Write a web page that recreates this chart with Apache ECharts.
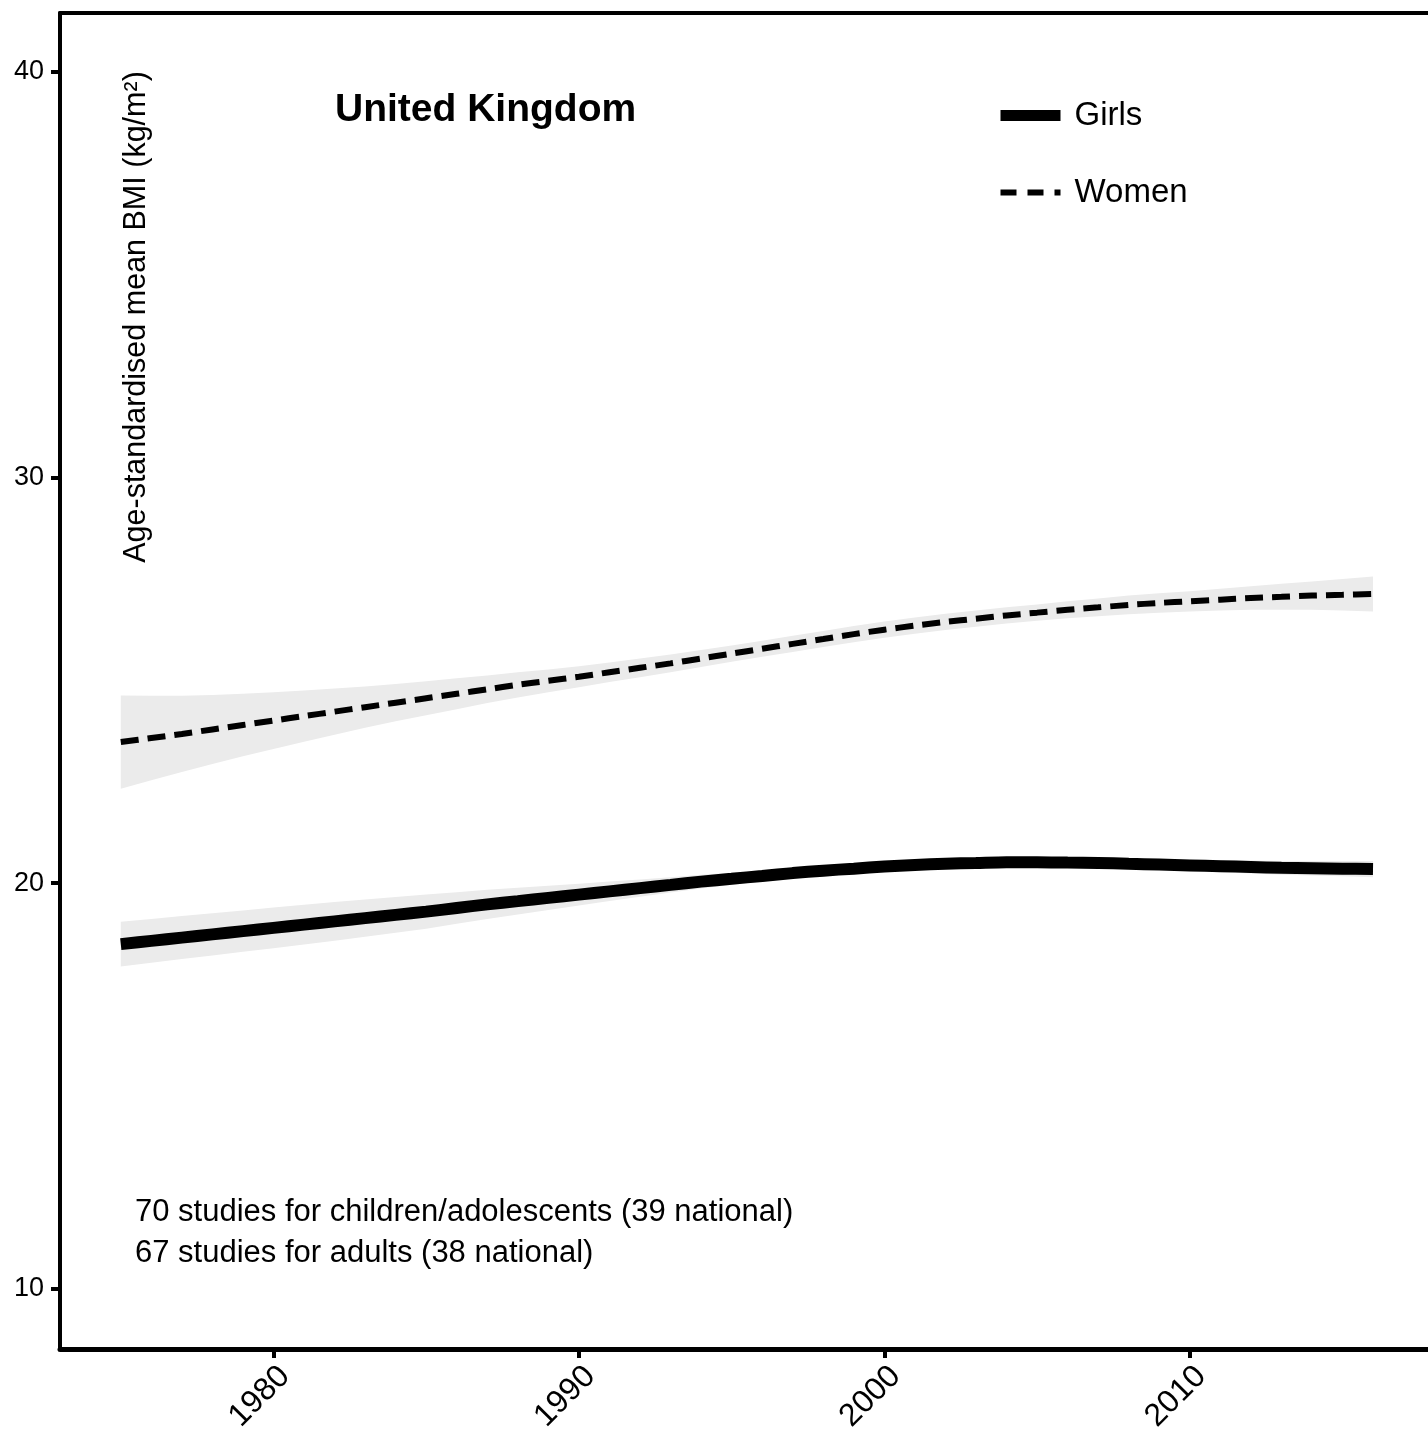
<!DOCTYPE html>
<html>
<head>
<meta charset="utf-8">
<script src="https://cdn.jsdelivr.net/npm/echarts@6/dist/echarts.min.js"></script>
<style>
html,body{margin:0;padding:0;background:#fff;}
#main{width:1428px;height:1448px;}
</style>
</head>
<body>
<div id="main"></div>
<script>
// ---- data ----
var years = [1975,1976,1977,1978,1979,1980,1981,1982,1983,1984,1985,1986,1987,1988,1989,1990,1991,1992,1993,1994,1995,1996,1997,1998,1999,2000,2001,2002,2003,2004,2005,2006,2007,2008,2009,2010,2011,2012,2013,2014,2015,2016];

var girlsMean  = [18.50,18.58,18.66,18.74,18.82,18.90,18.98,19.06,19.14,19.22,19.30,19.39,19.48,19.56,19.64,19.72,19.80,19.88,19.96,20.04,20.11,20.18,20.25,20.31,20.36,20.41,20.45,20.48,20.50,20.52,20.52,20.51,20.50,20.48,20.46,20.44,20.42,20.40,20.38,20.37,20.36,20.35];
var girlsUpper = [19.05,19.12,19.19,19.26,19.33,19.40,19.47,19.54,19.60,19.66,19.72,19.78,19.84,19.89,19.94,19.99,20.04,20.09,20.15,20.21,20.26,20.32,20.38,20.43,20.48,20.53,20.57,20.60,20.62,20.64,20.64,20.64,20.63,20.61,20.59,20.58,20.57,20.56,20.55,20.55,20.55,20.55];
var girlsLower = [17.95,18.04,18.13,18.22,18.31,18.40,18.49,18.58,18.68,18.78,18.88,19.00,19.12,19.23,19.34,19.45,19.56,19.67,19.77,19.87,19.96,20.04,20.12,20.19,20.24,20.29,20.33,20.36,20.38,20.40,20.40,20.38,20.37,20.35,20.33,20.30,20.27,20.24,20.21,20.19,20.17,20.15];

var womenMean  = [23.48,23.58,23.68,23.79,23.90,24.01,24.12,24.23,24.34,24.45,24.56,24.67,24.78,24.89,24.99,25.09,25.20,25.31,25.42,25.54,25.66,25.78,25.90,26.02,26.14,26.25,26.35,26.44,26.52,26.60,26.67,26.74,26.80,26.86,26.91,26.95,26.99,27.03,27.06,27.09,27.11,27.13];
var womenUpper = [24.63,24.62,24.62,24.64,24.67,24.71,24.75,24.80,24.85,24.91,24.98,25.05,25.12,25.20,25.27,25.35,25.44,25.54,25.64,25.75,25.86,25.98,26.10,26.22,26.34,26.45,26.55,26.64,26.72,26.80,26.87,26.95,27.02,27.09,27.15,27.20,27.26,27.32,27.38,27.44,27.50,27.56];
var womenLower = [22.33,22.54,22.74,22.94,23.13,23.31,23.49,23.66,23.83,23.99,24.14,24.29,24.44,24.58,24.71,24.83,24.96,25.08,25.20,25.33,25.46,25.58,25.70,25.82,25.94,26.05,26.15,26.24,26.32,26.40,26.47,26.53,26.58,26.63,26.67,26.70,26.72,26.74,26.74,26.74,26.72,26.70];

var xTicks = [1980,1990,2000,2010];
var yTicks = [10,20,30,40];

var titleText = 'United Kingdom';
var yAxisTitle = 'Age-standardised mean BMI (kg/m\u00B2)';
var noteLines = ['70 studies for children/adolescents (39 national)','67 studies for adults (38 national)'];

// ---- build ----
function pairs(xs, ys){ return xs.map(function(x,i){ return [x, ys[i]]; }); }
function triples(xs, lo, up){ return xs.map(function(x,i){ return [x, lo[i], up[i]]; }); }

var FONT = '"Liberation Sans", Arial, Helvetica, sans-serif';
var BAND = '#ebebeb';

var chart = echarts.init(document.getElementById('main'), null, {renderer:'canvas'});

function bandSeries(id, lo, up){
  var rows = triples(years, lo, up);
  return {
    name: id, type:'custom', data: rows, silent:true, z:1, clip:true,
    encode:{x:0, y:[1,2]},
    renderItem: function(params, api){
      if (params.dataIndex !== 0) return null;
      var pts = [], i;
      for (i = 0; i < rows.length; i++) pts.push(api.coord([rows[i][0], rows[i][2]]));
      for (i = rows.length - 1; i >= 0; i--) pts.push(api.coord([rows[i][0], rows[i][1]]));
      return { type:'polygon', shape:{points:pts}, style:{fill:BAND, stroke:null} };
    }
  };
}

var option = {
  animation:false,
  backgroundColor:'#ffffff',
  textStyle:{fontFamily:FONT},
  grid:{left:60, right:0, top:13, bottom:99, containLabel:false},
  title:[
    {text:titleText, left:335, top:91, padding:0, textStyle:{fontFamily:FONT, fontSize:39, fontWeight:'bold', color:'#000'}},
    {text:noteLines.join('\n'), left:135, top:1192, padding:0, textStyle:{fontFamily:FONT, fontSize:31, fontWeight:'normal', color:'#000', lineHeight:41}}
  ],
  legend:{
    data:[
      {name:'Girls', itemStyle:{opacity:0}, lineStyle:{width:11, type:'solid', color:'#000', cap:'butt'}},
      {name:'Women', itemStyle:{opacity:0}, lineStyle:{width:6, type:[16,11], color:'#000', cap:'butt'}}
    ],
    orient:'vertical', left:995, top:99, padding:0,
    itemWidth:60, itemHeight:14, itemGap:44,
    textStyle:{fontFamily:FONT, fontSize:33, color:'#000', padding:[0,0,0,9]},
    selectedMode:false
  },
  graphic:[
    { type:'text', x:137, y:317, rotation:Math.PI/2,
      style:{ text:yAxisTitle, fontFamily:FONT, fontSize:30.5, fill:'#000', align:'center', verticalAlign:'middle' } }
  ],
  xAxis:[
    { type:'value', min:1973.01, max:2017.8, position:'bottom',
      axisLine:{show:true, onZero:false, lineStyle:{color:'#000', width:5}},
      axisTick:{show:true, length:9, lineStyle:{color:'#000', width:4}, customValues:xTicks},
      axisLabel:{show:true, rotate:45, fontSize:32, color:'#000', fontFamily:FONT, margin:11,
        align:'right', verticalAlign:'top', customValues:xTicks,
        formatter:function(v){ return String(v); }},
      splitLine:{show:false}
    },
    { type:'value', min:1973.01, max:2017.8, position:'top',
      axisLine:{show:true, onZero:false, lineStyle:{color:'#000', width:4}},
      axisTick:{show:false}, axisLabel:{show:false}, splitLine:{show:false}
    }
  ],
  yAxis:{
    type:'value', min:8.52, max:41.45,
    axisLine:{show:true, onZero:false, lineStyle:{color:'#000', width:4}},
    axisTick:{show:true, length:9, lineStyle:{color:'#000', width:4}, customValues:yTicks},
    axisLabel:{show:true, fontSize:27, color:'#000', fontFamily:FONT, margin:16, customValues:yTicks},
    splitLine:{show:false}
  },
  series: [
    bandSeries('womenBand', womenLower, womenUpper),
    bandSeries('girlsBand', girlsLower, girlsUpper),
    { name:'Women', type:'line', data:pairs(years, womenMean), symbol:'none', smooth:0.3, z:3,
      lineStyle:{color:'#000', width:6, type:[18,9], cap:'butt'}, itemStyle:{color:'#000'} },
    { name:'Girls', type:'line', data:pairs(years, girlsMean), symbol:'none', smooth:0.3, z:3,
      lineStyle:{color:'#000', width:12, type:'solid', cap:'butt'}, itemStyle:{color:'#000'} }
  ]
};
chart.setOption(option);
</script>
</body>
</html>
